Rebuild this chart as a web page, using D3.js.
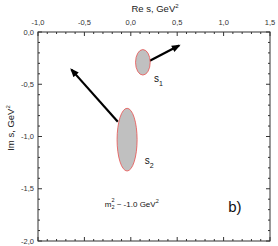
<!DOCTYPE html>
<html>
<head>
<meta charset="utf-8">
<script src="https://cdn.jsdelivr.net/npm/d3@7"></script>
<style>
  body { margin: 0; background: #fff; }
  text { font-family: "Liberation Sans", Arial, sans-serif; }
</style>
</head>
<body>
<svg width="278" height="246"></svg>
<script>
// axis ticks
const xMajor = [-1.0, -0.5, 0.0, 0.5, 1.0, 1.5];
const yMajor = [0.0, -0.5, -1.0, -1.5, -2.0];

// poles: name, centre (Re, Im), half-widths
const poleNames = ["s1", "s2"];
const poleRe = [0.13, -0.04];
const poleIm = [-0.29, -1.03];
const poleRadRe = [0.079, 0.108];
const poleRadIm = [0.122, 0.30];

// arrows: start and end points
const arrowFrom = [[0.205, -0.275], [-0.14, -0.858]];
const arrowTo = [[0.52, -0.13], [-0.64, -0.36]];

var svg = d3.select("svg");
const padL = 38, padR = 270, padT = 32, padB = 241;

var x = d3.scaleLinear().domain([-1.0, 1.5]).range([padL, padR]);
var y = d3.scaleLinear().domain([0.0, -2.0]).range([padT, padB]);

const fmt = d => d3.format(".1f")(d).replace(".", ",").replace("−", "-");
const xMinor = d3.range(-1.0, 1.5001, 0.1);
const yMinor = d3.range(0.0, -2.0001, -0.1);

// frame
svg.append("rect")
    .attr("x", padL).attr("y", padT)
    .attr("width", padR - padL).attr("height", padB - padT)
    .attr("fill", "none").attr("stroke", "#333").attr("stroke-width", 1);

// ticks, inward on all four sides
var ticks = svg.append("g").attr("stroke", "#333").attr("stroke-width", 1);
xMinor.forEach(function (v) {
    var major = xMajor.some(m => Math.abs(m - v) < 1e-6);
    var len = major ? 4 : 2;
    ticks.append("line").attr("x1", x(v)).attr("x2", x(v)).attr("y1", padT).attr("y2", padT + len);
    ticks.append("line").attr("x1", x(v)).attr("x2", x(v)).attr("y1", padB).attr("y2", padB - len);
});
yMinor.forEach(function (v) {
    var major = yMajor.some(m => Math.abs(m - v) < 1e-6);
    var len = major ? 4 : 2;
    ticks.append("line").attr("y1", y(v)).attr("y2", y(v)).attr("x1", padL).attr("x2", padL + len);
    ticks.append("line").attr("y1", y(v)).attr("y2", y(v)).attr("x1", padR).attr("x2", padR - len);
});

// tick labels
svg.append("g").selectAll("text")
    .data(xMajor).enter().append("text")
    .attr("x", d => x(d)).attr("y", padT - 7)
    .attr("text-anchor", "middle")
    .attr("font-size", 7.5).attr("fill", "#333")
    .text(fmt);
svg.append("g").selectAll("text")
    .data(yMajor).enter().append("text")
    .attr("x", padL - 4).attr("y", d => y(d) + 2.5)
    .attr("text-anchor", "end")
    .attr("font-size", 7.5).attr("fill", "#333")
    .text(fmt);

// axis titles
var xt = svg.append("text")
    .attr("x", 155).attr("y", 12)
    .attr("text-anchor", "middle").attr("font-size", 9.5).attr("fill", "#222");
xt.append("tspan").text("Re s, GeV");
xt.append("tspan").attr("dy", -4).attr("font-size", 6).text("2");

var yt = svg.append("text")
    .attr("transform", "translate(14,128) rotate(-90)")
    .attr("text-anchor", "middle").attr("font-size", 9.5).attr("fill", "#222");
yt.append("tspan").text("Im s, GeV");
yt.append("tspan").attr("dy", -4).attr("font-size", 6).text("2");

// arrowhead
svg.append("defs").append("marker")
    .attr("id", "head")
    .attr("viewBox", "0 0 10 10")
    .attr("refX", 8).attr("refY", 5)
    .attr("markerWidth", 4.2).attr("markerHeight", 4)
    .attr("orient", "auto")
    .append("path").attr("d", "M0,1 L10,5 L0,9 Z").attr("fill", "#000");

svg.append("g").selectAll("line")
    .data(arrowFrom).enter().append("line")
    .attr("x1", d => x(d[0])).attr("y1", d => y(d[1]))
    .attr("x2", (d, i) => x(arrowTo[i][0])).attr("y2", (d, i) => y(arrowTo[i][1]))
    .attr("stroke", "#000").attr("stroke-width", 2.2)
    .attr("marker-end", "url(#head)");

// pole regions
svg.append("g").selectAll("ellipse")
    .data(poleNames).enter().append("ellipse")
    .attr("cx", (d, i) => x(poleRe[i]))
    .attr("cy", (d, i) => y(poleIm[i]))
    .attr("rx", (d, i) => x(poleRadRe[i]) - x(0))
    .attr("ry", (d, i) => y(-poleRadIm[i]) - y(0))
    .attr("fill", "#c0c0c0").attr("stroke", "#e8504f").attr("stroke-width", 0.8);

// pole labels
const labelRe = [0.25, 0.15];
const labelIm = [-0.48, -1.26];
poleNames.forEach(function (n, i) {
    var t = svg.append("text")
        .attr("x", x(labelRe[i])).attr("y", y(labelIm[i]))
        .attr("font-size", 10).attr("fill", "#111");
    t.append("tspan").text("s");
    t.append("tspan").attr("dy", 4).attr("font-size", 7).text(n.slice(1));
});

// annotation, m with stacked sub/superscript
var m = svg.append("text").attr("x", x(-0.28)).attr("y", y(-1.67))
    .attr("font-size", 8).attr("fill", "#111");
m.append("tspan").text("m");
m.append("tspan").attr("dy", 2).attr("font-size", 5.5).text("2");
m.append("tspan").attr("dx", -3.1).attr("dy", -6.5).attr("font-size", 5.5).text("2");
m.append("tspan").attr("dy", 4.5).text(" ~ -1.0 GeV");
m.append("tspan").attr("dy", -4).attr("font-size", 5.5).text("2");

svg.append("text").attr("x", x(1.05)).attr("y", y(-1.72))
    .attr("font-size", 15).attr("fill", "#111").text("b)");
</script>
</body>
</html>
